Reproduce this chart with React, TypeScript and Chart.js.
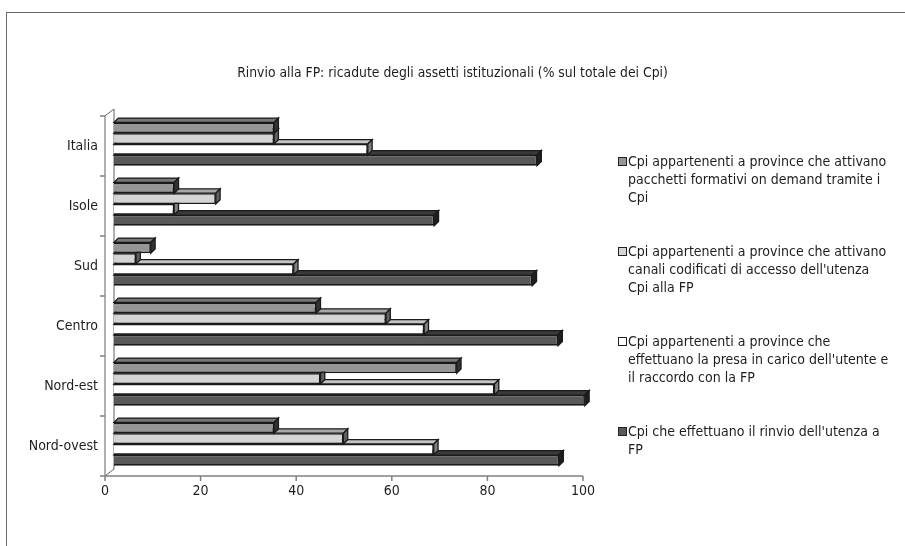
import React, { useEffect, useRef } from "react";
import { Chart, registerables } from "chart.js";

Chart.register(...registerables);

// Regions, top to bottom
const regions = ["Italia", "Isole", "Sud", "Centro", "Nord-est", "Nord-ovest"];

// % of Cpi for each institutional arrangement
const pacchettiOnDemand = [33.5, 12.6, 7.7, 42.3, 71.7, 33.5];
const canaliCodificati = [33.5, 21.3, 4.6, 56.9, 43.2, 48.0];
const presaInCarico = [53.1, 12.6, 37.6, 64.9, 79.6, 66.9];
const rinvioUtenza = [88.5, 67.0, 87.5, 92.9, 98.5, 93.1];

const xTicks = [0, 20, 40, 60, 80, 100];

const seriesLabels = [
  "Cpi appartenenti a province che attivano pacchetti formativi on demand tramite i Cpi",
  "Cpi appartenenti a province che attivano canali codificati di accesso dell'utenza Cpi alla FP",
  "Cpi appartenenti a province che effettuano la presa in carico dell'utente e il raccordo con la FP",
  "Cpi che effettuano il rinvio dell'utenza a FP",
];

const legendLines = [
  ["Cpi appartenenti a province che attivano", "pacchetti formativi on demand tramite i", "Cpi"],
  ["Cpi appartenenti a province che attivano", "canali codificati di accesso dell'utenza", "Cpi alla FP"],
  ["Cpi appartenenti a province che", "effettuano la presa in carico dell'utente e", "il raccordo con la FP"],
  ["Cpi che effettuano il rinvio dell'utenza a", "FP"],
];

const title = "Rinvio alla FP: ricadute degli assetti istituzionali (% sul totale dei Cpi)";

const FONT = "'DejaVu Sans Condensed', 'DejaVu Sans', sans-serif";
const TEXT = "#1e1e1e";
const OUTLINE = "#1a1a1a";

// front / top / side shading of the 3D bars
const faces = [
  { front: "#969696", top: "#777777", side: "#333333" },
  { front: "#d4d4d4", top: "#a8a8a8", side: "#606060" },
  { front: "#ffffff", top: "#c4c4c4", side: "#808080" },
  { front: "#595959", top: "#3a3a3a", side: "#1e1e1e" },
];

const BAR_DX = 4.3;
const BAR_DY = 4.3;
const WALL_DX = 9;
const WALL_DY = 7;
const FRONT_DX = -9;
const FRONT_DY = 2;

const bar3d = {
  id: "bar3d",
  beforeDatasetsDraw(chart: any) {
    const { ctx, chartArea: a, scales } = chart;
    const xs = scales.x;
    const fl = a.left + FRONT_DX;
    const ft = a.top + FRONT_DY;
    const fb = a.bottom + FRONT_DY;
    ctx.save();
    // left wall
    ctx.beginPath();
    ctx.moveTo(fl, fb);
    ctx.lineTo(fl, ft);
    ctx.lineTo(fl + WALL_DX, ft - WALL_DY);
    ctx.lineTo(fl + WALL_DX, fb - WALL_DY);
    ctx.closePath();
    ctx.fillStyle = "#ffffff";
    ctx.fill();
    ctx.strokeStyle = "#606060";
    ctx.lineWidth = 1;
    ctx.stroke();
    // floor front edge and value ticks
    ctx.strokeStyle = "#808080";
    ctx.lineWidth = 1.5;
    ctx.beginPath();
    ctx.moveTo(fl - 5, fb);
    ctx.lineTo(xs.getPixelForValue(100) + FRONT_DX, fb);
    for (const v of xTicks) {
      const px = xs.getPixelForValue(v) + FRONT_DX;
      ctx.moveTo(px, fb);
      ctx.lineTo(px, fb + 5);
    }
    // category ticks on the front edge of the wall
    const n = regions.length;
    const band = (fb - ft) / n;
    for (let k = 0; k <= n; k++) {
      const py = ft + band * k;
      ctx.moveTo(fl - 5, py);
      ctx.lineTo(fl, py);
    }
    ctx.stroke();
    ctx.restore();
  },
  afterDatasetDraw(chart: any, args: any) {
    const { ctx } = chart;
    const f = faces[args.index];
    ctx.save();
    ctx.strokeStyle = OUTLINE;
    ctx.lineWidth = 1.3;
    ctx.lineJoin = "miter";
    for (const el of args.meta.data) {
      const p = el.getProps(["x", "y", "base", "height"], true);
      const top = p.y - p.height / 2;
      const bottom = p.y + p.height / 2;
      // top face
      ctx.beginPath();
      ctx.moveTo(p.base, top);
      ctx.lineTo(p.x, top);
      ctx.lineTo(p.x + BAR_DX, top - BAR_DY);
      ctx.lineTo(p.base + BAR_DX, top - BAR_DY);
      ctx.closePath();
      ctx.fillStyle = f.top;
      ctx.fill();
      ctx.stroke();
      // side face
      ctx.beginPath();
      ctx.moveTo(p.x, top);
      ctx.lineTo(p.x + BAR_DX, top - BAR_DY);
      ctx.lineTo(p.x + BAR_DX, bottom - BAR_DY);
      ctx.lineTo(p.x, bottom);
      ctx.closePath();
      ctx.fillStyle = f.side;
      ctx.fill();
      ctx.stroke();
    }
    ctx.restore();
  },
};

export default function App() {
  const canvasRef = useRef<HTMLCanvasElement | null>(null);

  useEffect(() => {
    const canvas = canvasRef.current;
    if (!canvas) return;
    const series = [pacchettiOnDemand, canaliCodificati, presaInCarico, rinvioUtenza];
    const chart = new Chart(canvas, {
      type: "bar",
      data: {
        labels: regions,
        datasets: series.map((values, i) => ({
          label: seriesLabels[i],
          data: values,
          backgroundColor: faces[i].front,
          borderColor: OUTLINE,
          borderWidth: 1.6,
          categoryPercentage: 0.722,
          barPercentage: 1,
        })),
      },
      options: {
        indexAxis: "y",
        responsive: false,
        devicePixelRatio: 1,
        animation: false,
        layout: { padding: { left: 14, top: 114, right: 313, bottom: 42 } },
        plugins: {
          legend: { display: false },
          title: { display: false },
          tooltip: { enabled: false },
        },
        scales: {
          x: {
            type: "linear",
            min: 0,
            max: 100,
            afterFit: (s: any) => {
              s.height = 30;
            },
            afterBuildTicks: (s: any) => {
              s.ticks = xTicks.map((v) => ({ value: v }));
            },
            grid: { display: false, drawTicks: false },
            border: { display: false },
            ticks: {
              labelOffset: FRONT_DX,
              padding: 9,
              color: TEXT,
              font: { family: FONT, size: 14 },
            },
          },
          y: {
            afterFit: (s: any) => {
              s.width = 100;
            },
            grid: { display: false, drawTicks: false },
            border: { display: false },
            ticks: {
              labelOffset: FRONT_DY,
              padding: 16,
              color: TEXT,
              font: { family: FONT, size: 14 },
            },
          },
        },
      },
      plugins: [bar3d],
    });
    return () => chart.destroy();
  }, []);

  return (
    <div
      style={{
        position: "absolute",
        left: 0,
        top: 0,
        width: 905,
        height: 546,
        overflow: "hidden",
        background: "#ffffff",
        fontFamily: FONT,
        color: TEXT,
      }}
    >
      <div
        style={{
          position: "absolute",
          left: 6,
          top: 12,
          width: 1000,
          height: 1000,
          borderTop: "1px solid #6a6a6a",
          borderLeft: "1px solid #6a6a6a",
        }}
      />
      <canvas
        ref={canvasRef}
        width={905}
        height={546}
        style={{ position: "absolute", left: 0, top: 0, width: 905, height: 546 }}
      />
      <div
        style={{
          position: "absolute",
          left: 0,
          top: 63,
          width: 905,
          textAlign: "center",
          fontSize: 13.8,
          lineHeight: "18px",
          whiteSpace: "nowrap",
        }}
      >
        {title}
      </div>
      {legendLines.map((lines, i) => (
        <div
          key={i}
          title={seriesLabels[i]}
          style={{ position: "absolute", left: 618, top: 152 + 90 * i, fontSize: 14, lineHeight: "18px" }}
        >
          <span
            style={{
              position: "absolute",
              left: 0,
              top: 5,
              width: 7,
              height: 7,
              border: "1px solid #222",
              background: faces[i].front,
            }}
          />
          <div style={{ marginLeft: 10, whiteSpace: "nowrap" }}>
            {lines.map((l, j) => (
              <div key={j}>{l}</div>
            ))}
          </div>
        </div>
      ))}
    </div>
  );
}
